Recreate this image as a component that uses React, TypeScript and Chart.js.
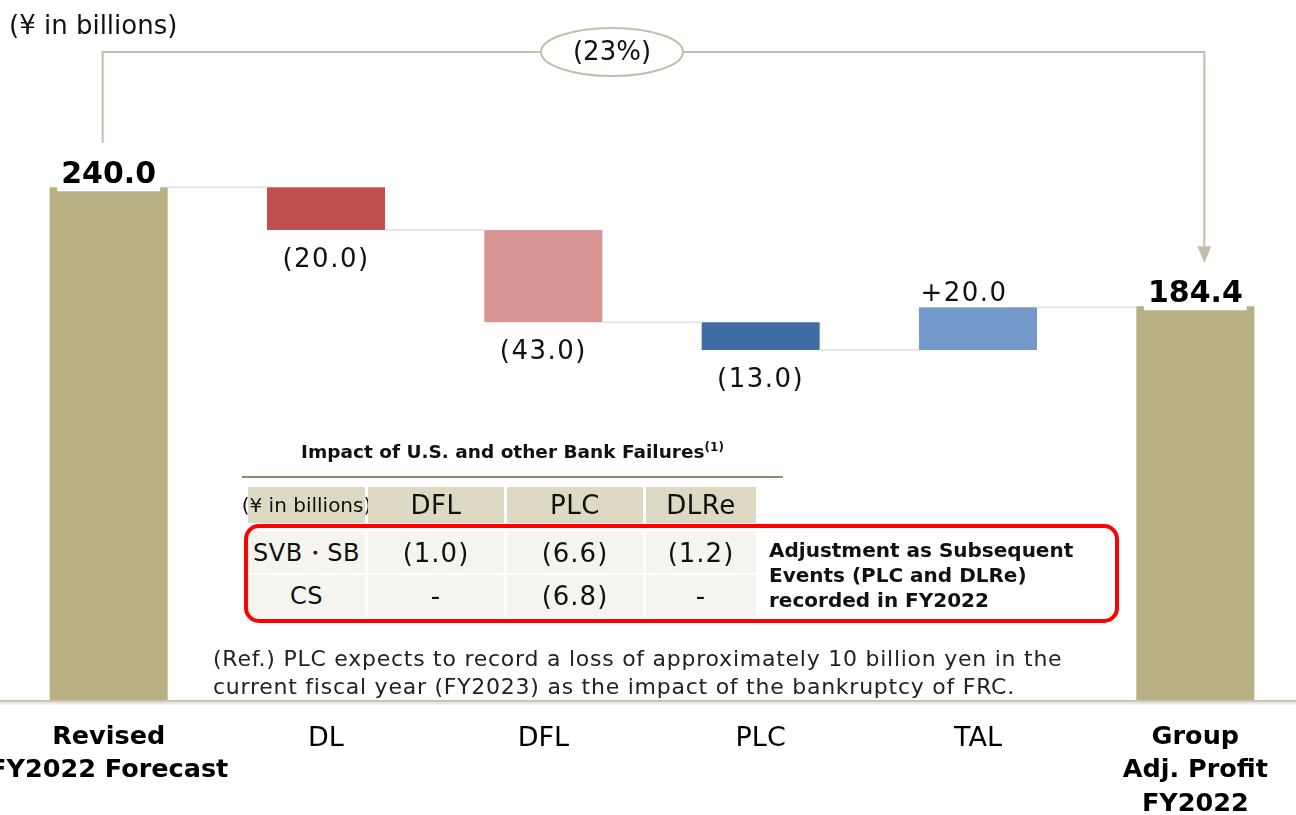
import React, { useEffect, useRef } from "react";
import { Chart, registerables } from "chart.js";

Chart.register(...registerables);

// ---------- data ----------
const categories: (string | string[])[] = [
  ["Revised", "FY2022 Forecast"],
  "DL",
  "DFL",
  "PLC",
  "TAL",
  ["Group", "Adj. Profit", "FY2022"],
];
const startValue = 240.0;
const deltas = [-20.0, -43.0, -13.0, 20.0];
const endValue = 184.4;
const valueLabels = ["240.0", "(20.0)", "(43.0)", "(13.0)", "+20.0", "184.4"];
const barColors = ["#B8AF82", "#C0504D", "#D99594", "#3F6CA3", "#7299C9", "#B8AF82"];
const changeLabel = "(23%)";
const unitLabel = "(¥ in billions)";

const tableTitle = "Impact of U.S. and other Bank Failures";
const tableColumns = ["(¥ in billions)", "DFL", "PLC", "DLRe"];
const tableRowLabels = ["SVB・SB", "CS"];
const dflImpact = ["(1.0)", "-"];
const plcImpact = ["(6.6)", "(6.8)"];
const dlreImpact = ["(1.2)", "-"];
const adjustmentNote = ["Adjustment as Subsequent", "Events (PLC and DLRe)", "recorded in FY2022"];
const refNote = [
  "(Ref.) PLC expects to record a loss of approximately 10 billion yen in the",
  "current fiscal year (FY2023) as the impact of the bankruptcy of FRC.",
];

// floating ranges built from the values
const ranges: [number, number][] = [[0, startValue]];
const levels: number[] = [startValue];
let lvl = startValue;
deltas.forEach((d) => {
  const next = lvl + d;
  ranges.push([Math.min(lvl, next), Math.max(lvl, next)]);
  lvl = next;
  levels.push(next);
});
ranges.push([0, endValue]);

const FONT = "'DejaVu Sans', Verdana, sans-serif";

const overlayPlugin = {
  id: "waterfallOverlay",
  afterDatasetsDraw(chart: any) {
    const ctx: CanvasRenderingContext2D = chart.ctx;
    const meta = chart.getDatasetMeta(0);
    const ys = chart.scales.y;
    const area = chart.chartArea;
    ctx.save();
    // connectors
    ctx.strokeStyle = "#E6E6E6";
    ctx.lineWidth = 2;
    for (let i = 0; i < levels.length; i++) {
      const a = meta.data[i];
      const b = meta.data[i + 1];
      const py = ys.getPixelForValue(levels[i]);
      ctx.beginPath();
      ctx.moveTo(a.x + a.width / 2, py);
      ctx.lineTo(b.x - b.width / 2, py);
      ctx.stroke();
    }
    // baseline
    ctx.strokeStyle = "#E9E7E0";
    ctx.lineWidth = 3;
    ctx.beginPath();
    ctx.moveTo(0, area.bottom + 2);
    ctx.lineTo(chart.width, area.bottom + 2);
    ctx.stroke();
    ctx.strokeStyle = "#C9C4B3";
    ctx.lineWidth = 2;
    ctx.beginPath();
    ctx.moveTo(0, area.bottom);
    ctx.lineTo(chart.width, area.bottom);
    ctx.stroke();

    // labels
    ctx.textAlign = "center";
    meta.data.forEach((el: any, i: number) => {
      const top = Math.min(el.y, el.base);
      const bottom = Math.max(el.y, el.base);
      const text = valueLabels[i];
      const isTotal = i === 0 || i === meta.data.length - 1;
      if (isTotal) {
        ctx.font = `bold 30px ${FONT}`;
        const w = ctx.measureText(text).width;
        ctx.fillStyle = "#FFFFFF";
        ctx.fillRect(el.x - w / 2 - 4, top - 32, w + 8, 36);
        ctx.fillStyle = "#000000";
        ctx.textBaseline = "alphabetic";
        ctx.fillText(text, el.x, top - 4);
      } else {
        const d = deltas[i - 1];
        ctx.font = `26px ${FONT}`;
        (ctx as any).letterSpacing = "1.5px";
        ctx.fillStyle = "#111111";
        if (d < 0) {
          ctx.textBaseline = "middle";
          ctx.fillText(text, el.x, bottom + 30);
        } else {
          const w = ctx.measureText(text).width;
          const cx = el.x - 14;
          ctx.fillStyle = "#FFFFFF";
          ctx.fillRect(cx - w / 2 - 3, top - 30, w + 6, 30);
          ctx.fillStyle = "#111111";
          ctx.textBaseline = "alphabetic";
          ctx.fillText(text, cx, top - 6);
        }
        (ctx as any).letterSpacing = "0px";
      }
    });
    ctx.restore();
  },
  afterDraw(chart: any) {
    const ctx: CanvasRenderingContext2D = chart.ctx;
    const meta = chart.getDatasetMeta(0);
    const first = meta.data[0];
    const last = meta.data[meta.data.length - 1];
    const lx = first.x - 6;
    const rx = last.x + 9;
    const topY = 52;
    const lastTop = Math.min(last.y, last.base);
    ctx.save();
    ctx.strokeStyle = "#C5BEAA";
    ctx.fillStyle = "#C5BEAA";
    ctx.lineWidth = 2;
    ctx.beginPath();
    ctx.moveTo(lx, 143);
    ctx.lineTo(lx, topY);
    ctx.lineTo(rx, topY);
    ctx.lineTo(rx, lastTop - 58);
    ctx.stroke();
    ctx.beginPath();
    ctx.moveTo(rx - 7, lastTop - 60);
    ctx.lineTo(rx + 7, lastTop - 60);
    ctx.lineTo(rx, lastTop - 43);
    ctx.closePath();
    ctx.fill();
    // ellipse
    ctx.beginPath();
    ctx.ellipse(612, topY, 71, 24, 0, 0, Math.PI * 2);
    ctx.fillStyle = "#FFFFFF";
    ctx.fill();
    ctx.stroke();
    ctx.fillStyle = "#111111";
    ctx.font = `26px ${FONT}`;
    ctx.textAlign = "center";
    ctx.textBaseline = "middle";
    ctx.fillText(changeLabel, 612, topY + 1);
    // unit label
    ctx.textAlign = "left";
    ctx.font = `26px ${FONT}`;
    ctx.fillText(unitLabel, 9, 27);
    ctx.restore();
  },
};

const colX: [number, number][] = [
  [248, 365],
  [368, 504],
  [507, 643],
  [646, 756],
];

function Cell(props: { x: [number, number]; y: [number, number]; bg: string; size: number; text: string; spacing?: string }) {
  const { x, y, bg, size, text, spacing } = props;
  return (
    <div
      style={{
        position: "absolute",
        left: x[0],
        top: y[0],
        width: x[1] - x[0],
        height: y[1] - y[0],
        background: bg,
        display: "flex",
        alignItems: "center",
        justifyContent: "center",
        fontSize: size,
        whiteSpace: "nowrap",
        color: "#111",
        letterSpacing: spacing || "0.5px",
      }}
    >
      {text}
    </div>
  );
}

export default function App() {
  const canvasRef = useRef<HTMLCanvasElement>(null);

  useEffect(() => {
    if (!canvasRef.current) return;
    const chart = new Chart(canvasRef.current, {
      type: "bar",
      data: {
        labels: categories as any,
        datasets: [
          {
            data: ranges as any,
            backgroundColor: barColors,
            borderWidth: 0,
            barPercentage: 0.543,
            categoryPercentage: 1,
          },
        ],
      },
      options: {
        responsive: false,
        animation: false,
        layout: { padding: 0 },
        plugins: { legend: { display: false }, tooltip: { enabled: false } },
        scales: {
          x: {
            grid: { display: false },
            border: { display: false },
            ticks: {
              color: "#000",
              padding: 12,
              maxRotation: 0,
              autoSkip: false,
              font: (c: any) =>
                c.index === 0 || c.index === categories.length - 1
                  ? { family: FONT, size: 25.5, weight: "bold", lineHeight: 1.3 }
                  : { family: FONT, size: 27, weight: "normal", lineHeight: 1.3 },
            },
            afterFit: (s: any) => {
              s.height = 114;
              s.paddingLeft = 0;
              s.paddingRight = 0;
            },
          },
          y: { display: false, min: 0, max: 327.5 },
        },
      },
      plugins: [overlayPlugin],
    });
    return () => chart.destroy();
  }, []);

  const headerY: [number, number] = [487, 523];
  const rowY: [number, number][] = [
    [532, 573],
    [575, 617],
  ];
  const bodyCols = [tableRowLabels, dflImpact, plcImpact, dlreImpact];

  return (
    <div
      style={{
        position: "fixed",
        left: 0,
        top: 0,
        width: 1296,
        height: 815,
        overflow: "hidden",
        background: "#fff",
        fontFamily: FONT,
      }}
    >
      <canvas ref={canvasRef} width={1304} height={815} style={{ position: "absolute", left: 0, top: 0 }} />
      {/* table title */}
      <div
        style={{
          position: "absolute",
          left: 242,
          top: 440,
          width: 541,
          textAlign: "center",
          fontWeight: "bold",
          fontSize: 18.5,
          color: "#111",
          whiteSpace: "nowrap",
        }}
      >
        {tableTitle}
        <sup style={{ fontSize: 12 }}>(1)</sup>
      </div>
      <div style={{ position: "absolute", left: 242, top: 476, width: 541, height: 2, background: "#948A6A" }} />
      {tableColumns.map((c, i) => (
        <Cell key={"h" + i} x={colX[i]} y={headerY} bg="#DDD9C3" size={i === 0 ? 20 : 26} text={c} spacing={i === 0 ? "0px" : "0.5px"} />
      ))}
      {rowY.map((ry, r) =>
        bodyCols.map((col, i) => (
          <Cell key={"r" + r + "c" + i} x={colX[i]} y={ry} bg="#F5F4EF" size={i === 0 ? 24 : 26} text={col[r]} spacing={i === 0 ? "0.5px" : "1px"} />
        ))
      )}
      <div
        style={{
          position: "absolute",
          left: 244,
          top: 524,
          width: 875 - 8,
          height: 99 - 8,
          border: "4px solid #FF0000",
          borderRadius: 15,
        }}
      />
      <div
        style={{
          position: "absolute",
          left: 769,
          top: 538,
          fontWeight: "bold",
          fontSize: 20,
          lineHeight: "25px",
          color: "#111",
          whiteSpace: "nowrap",
        }}
      >
        {adjustmentNote.map((t, i) => (
          <div key={i}>{t}</div>
        ))}
      </div>
      <div
        style={{
          position: "absolute",
          left: 213,
          top: 645,
          fontSize: 22,
          lineHeight: "28px",
          letterSpacing: "0.75px",
          color: "#222",
          whiteSpace: "nowrap",
        }}
      >
        {refNote.map((t, i) => (
          <div key={i}>{t}</div>
        ))}
      </div>
    </div>
  );
}
